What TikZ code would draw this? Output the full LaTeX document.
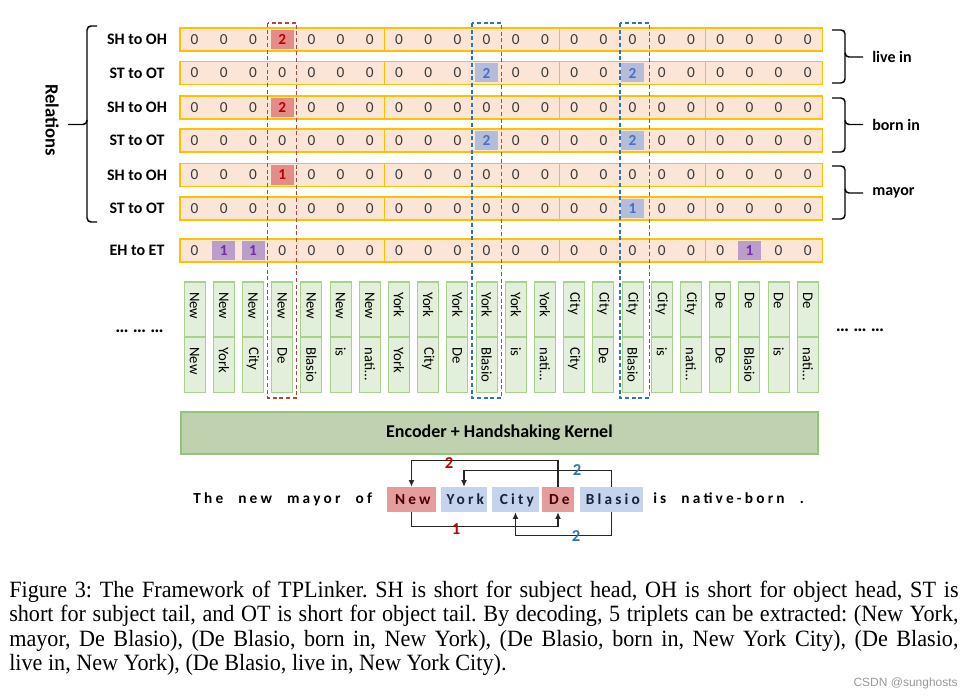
\documentclass[tikz,border=0pt]{standalone}
\usepackage{fontspec}
\setmainfont{Carlito}
\newfontfamily\capfont[FakeStretch=0.95]{Liberation Serif}
\newfontfamily\markfont{Liberation Sans}
\newfontfamily\sentfont[LetterSpace=21,WordSpace=2.25]{Carlito}
\usetikzlibrary{arrows.meta}
\definecolor{cellpeach}{HTML}{FBE5D6}
\definecolor{cellgold}{HTML}{FFC000}
\definecolor{zerogray}{HTML}{3A3A3A}
\definecolor{redfill}{HTML}{E48C88}
\definecolor{redtext}{HTML}{C00000}
\definecolor{bluefill}{HTML}{B3BCD8}
\definecolor{bluetext}{HTML}{4472C4}
\definecolor{purpfill}{HTML}{BA9DC9}
\definecolor{purptext}{HTML}{7030A0}
\definecolor{tokfill}{HTML}{E2EFDA}
\definecolor{tokedge}{HTML}{A9D18E}
\definecolor{encfill}{HTML}{BFD1AE}
\definecolor{encedge}{HTML}{93C47D}
\definecolor{wordred}{HTML}{E59C9C}
\definecolor{wordblue}{HTML}{C6D3EC}
\definecolor{dashred}{HTML}{B5443F}
\definecolor{dashblue}{HTML}{2E75B6}
\tikzset{
  cellgroup/.style={draw=cellgold,fill=cellpeach,line width=1.3pt},
  zero/.style={inner sep=0pt,text=zerogray,font=\fontsize{11.5}{12}\selectfont},
  hot/.style={inner sep=0pt,minimum width=17.25pt,minimum height=14.25pt,
    font=\fontsize{11.5}{12}\selectfont\bfseries},
  rowlabel/.style={inner sep=0pt,font=\fontsize{12}{14}\selectfont\bfseries},
  token/.style={draw=tokedge,fill=tokfill,line width=0.8pt,rotate=-90,
    minimum width=41.25pt,minimum height=15.75pt,inner xsep=7.5pt,inner ysep=0pt,
    text width=26.25pt,align=left,font=\fontsize{11}{12}\selectfont},
  bracepen/.style={line width=1.1pt,rounded corners=3pt},
  colbox/.style={line width=1.1pt,dash pattern=on 3pt off 2pt},
  wordbox/.style={inner xsep=0pt,minimum height=18.75pt,text height=7.3pt,text depth=0pt,
    font=\sentfont\fontsize{11.5}{13}\selectfont\bfseries},
  link/.style={draw=black!85,line width=0.9pt,-{Latex[length=5pt,width=4.5pt]}},
  linklabel/.style={inner sep=0pt,font=\fontsize{12.5}{13}\selectfont\bfseries},
}
\begin{document}
\begin{tikzpicture}[x=0.75pt,y=-0.75pt]
\useasboundingbox (0,0) rectangle (972,699);

% tag rows
\foreach \yy/\lab [count=\r] in {39.5/SH to OH,73/ST to OT,107.5/SH to OH,
    140.5/ST to OT,175/SH to OH,208.5/ST to OT,250.5/EH to ET}{
  \node[rowlabel] (lab\r) at (137,\yy) {\lab};
  \foreach \a/\b in {0/7,7/13,13/18,18/22}
    \draw[cellgroup] ({180+29.2*\a},{\yy-11.5}) rectangle ({180+29.2*\b},{\yy+11.5});
  \foreach \c in {0,...,21}
    \node[zero] (z\r-\c) at ({194.6+29.2*\c},\yy) {0};
}

% tagged cells
\foreach \r/\yy/\c/\v/\fc/\tc in {1/39.5/3/2/redfill/redtext,
    2/73/10/2/bluefill/bluetext,2/73/15/2/bluefill/bluetext,
    3/107.5/3/2/redfill/redtext,
    4/140.5/10/2/bluefill/bluetext,4/140.5/15/2/bluefill/bluetext,
    5/175/3/1/redfill/redtext,6/208.5/15/1/bluefill/bluetext,
    7/250.5/1/1/purpfill/purptext,7/250.5/2/1/purpfill/purptext,
    7/250.5/19/1/purpfill/purptext}
  \node[hot,fill=\fc,text=\tc] (h\r-\c) at ({194.6+29.2*\c},\yy) {\v};

% braces
\node[rotate=-90,inner sep=0pt,font=\fontsize{14}{16}\selectfont\bfseries] (rel) at (52,120) {Relations};
\draw[bracepen] (97,26) -- (87,26) -- (87,124.5) -- (68,124.5);
\draw[bracepen] (87,120) -- (87,222) -- (97,222);
\foreach \top/\mid/\bot/\lab [count=\k] in {30/57/83/live in,98/124.5/152/born in,166/193/219/mayor}{
  \draw[bracepen] (832,\top) -- (845,\top) -- (845,\mid) -- (863,\mid);
  \draw[bracepen] (845,\mid-4) -- (845,\bot) -- (832,\bot);
  \node[rowlabel,anchor=west] (rel\k) at (872,\mid) {\lab};
}

% token pairs
\foreach \a/\b [count=\i from 0] in {New/New,New/York,New/City,New/De,New/Blasio,New/is,New/nati…,
    York/York,York/City,York/De,York/Blasio,York/is,York/nati…,
    City/City,City/De,City/Blasio,City/is,City/nati…,
    De/De,De/Blasio,De/is,De/nati…}{
  \node[token] (tt\i) at ({194.6+29.2*\i},309.5) {\a};
  \node[token] (tb\i) at ({194.6+29.2*\i},365) {\b};
}
\node[inner sep=0pt,font=\fontsize{14}{16}\selectfont\bfseries] (dotsl) at (139.5,331) {… … …};
\node[inner sep=0pt,font=\fontsize{14}{16}\selectfont\bfseries] (dotsr) at (860,330) {… … …};

% picked columns
\draw[colbox,draw=dashred] (267.5,23) rectangle (296.5,398);
\draw[colbox,draw=dashblue] (472,23) rectangle (501.5,398);
\draw[colbox,draw=dashblue] (620,23) rectangle (649.5,398);

\node[draw=encedge,fill=encfill,line width=1.2pt,minimum width=477.75pt,minimum height=31.9pt,
  font=\fontsize{13.5}{15}\selectfont\bfseries] (enc) at (499.4,433) {Encoder + Handshaking Kernel};

% sentence
\node[wordbox,anchor=base west] (pre) at (193,503.3) {The new mayor of};
\node[wordbox,fill=wordred,text=redtext!35!black,minimum width=36.75pt] (New) at (411.5,499.5) {\hspace*{2pt}New};
\node[wordbox,fill=wordblue,text=bluetext!30!black,minimum width=34.5pt] (York) at (464,499.5) {\hspace*{2pt}York};
\node[wordbox,fill=wordblue,text=bluetext!30!black,minimum width=35.25pt] (City) at (515.5,499.5) {\hspace*{2pt}City};
\node[wordbox,fill=wordred,text=redtext!35!black,minimum width=24pt] (De) at (558,499.5) {\hspace*{2pt}De};
\node[wordbox,fill=wordblue,text=bluetext!30!black,minimum width=47.25pt] (Blasio) at (611.5,499.5) {\hspace*{2pt}Blasio};
\node[wordbox,anchor=base west] (post) at (653,503.3) {is native-born .};

\draw[link] (De.north) -- ++(0,-26) -| (New.north);
\draw[link] (Blasio.north) -- ++(0,-16) -| (York.north);
\draw[link] (New.south) -- ++(0,14) -| (De.south);
\draw[link] (Blasio.south) -- ++(0,23) -| (City.south);
\node[linklabel,text=redtext] (l1) at (449,463) {2};
\node[linklabel,text=dashblue] (l2) at (577,470) {2};
\node[linklabel,text=redtext] (l3) at (456,529) {1};
\node[linklabel,text=dashblue] (l4) at (576,536) {2};

% caption
\node[anchor=north west,inner sep=0pt,text width=712pt,align=justify,
  font=\capfont\fontsize{17.5}{18.2}\selectfont\frenchspacing] (cap) at (9,581)
  {Figure 3: The Framework of TPLinker. SH is short for subject head, OH is short for object head, ST is\linebreak
   short for subject tail, and OT is short for object tail. By decoding, 5 triplets can be extracted: (New York,\linebreak
   mayor, De Blasio), (De Blasio, born in, New York), (De Blasio, born in, New York City), (De Blasio,\linebreak
   live in, New York), (De Blasio, live in, New York City).};
\node[anchor=east,inner sep=0pt,text=black!40,font=\markfont\fontsize{9}{10}\selectfont] (wm) at (958,683) {CSDN @sunghosts};
\end{tikzpicture}
\end{document}
